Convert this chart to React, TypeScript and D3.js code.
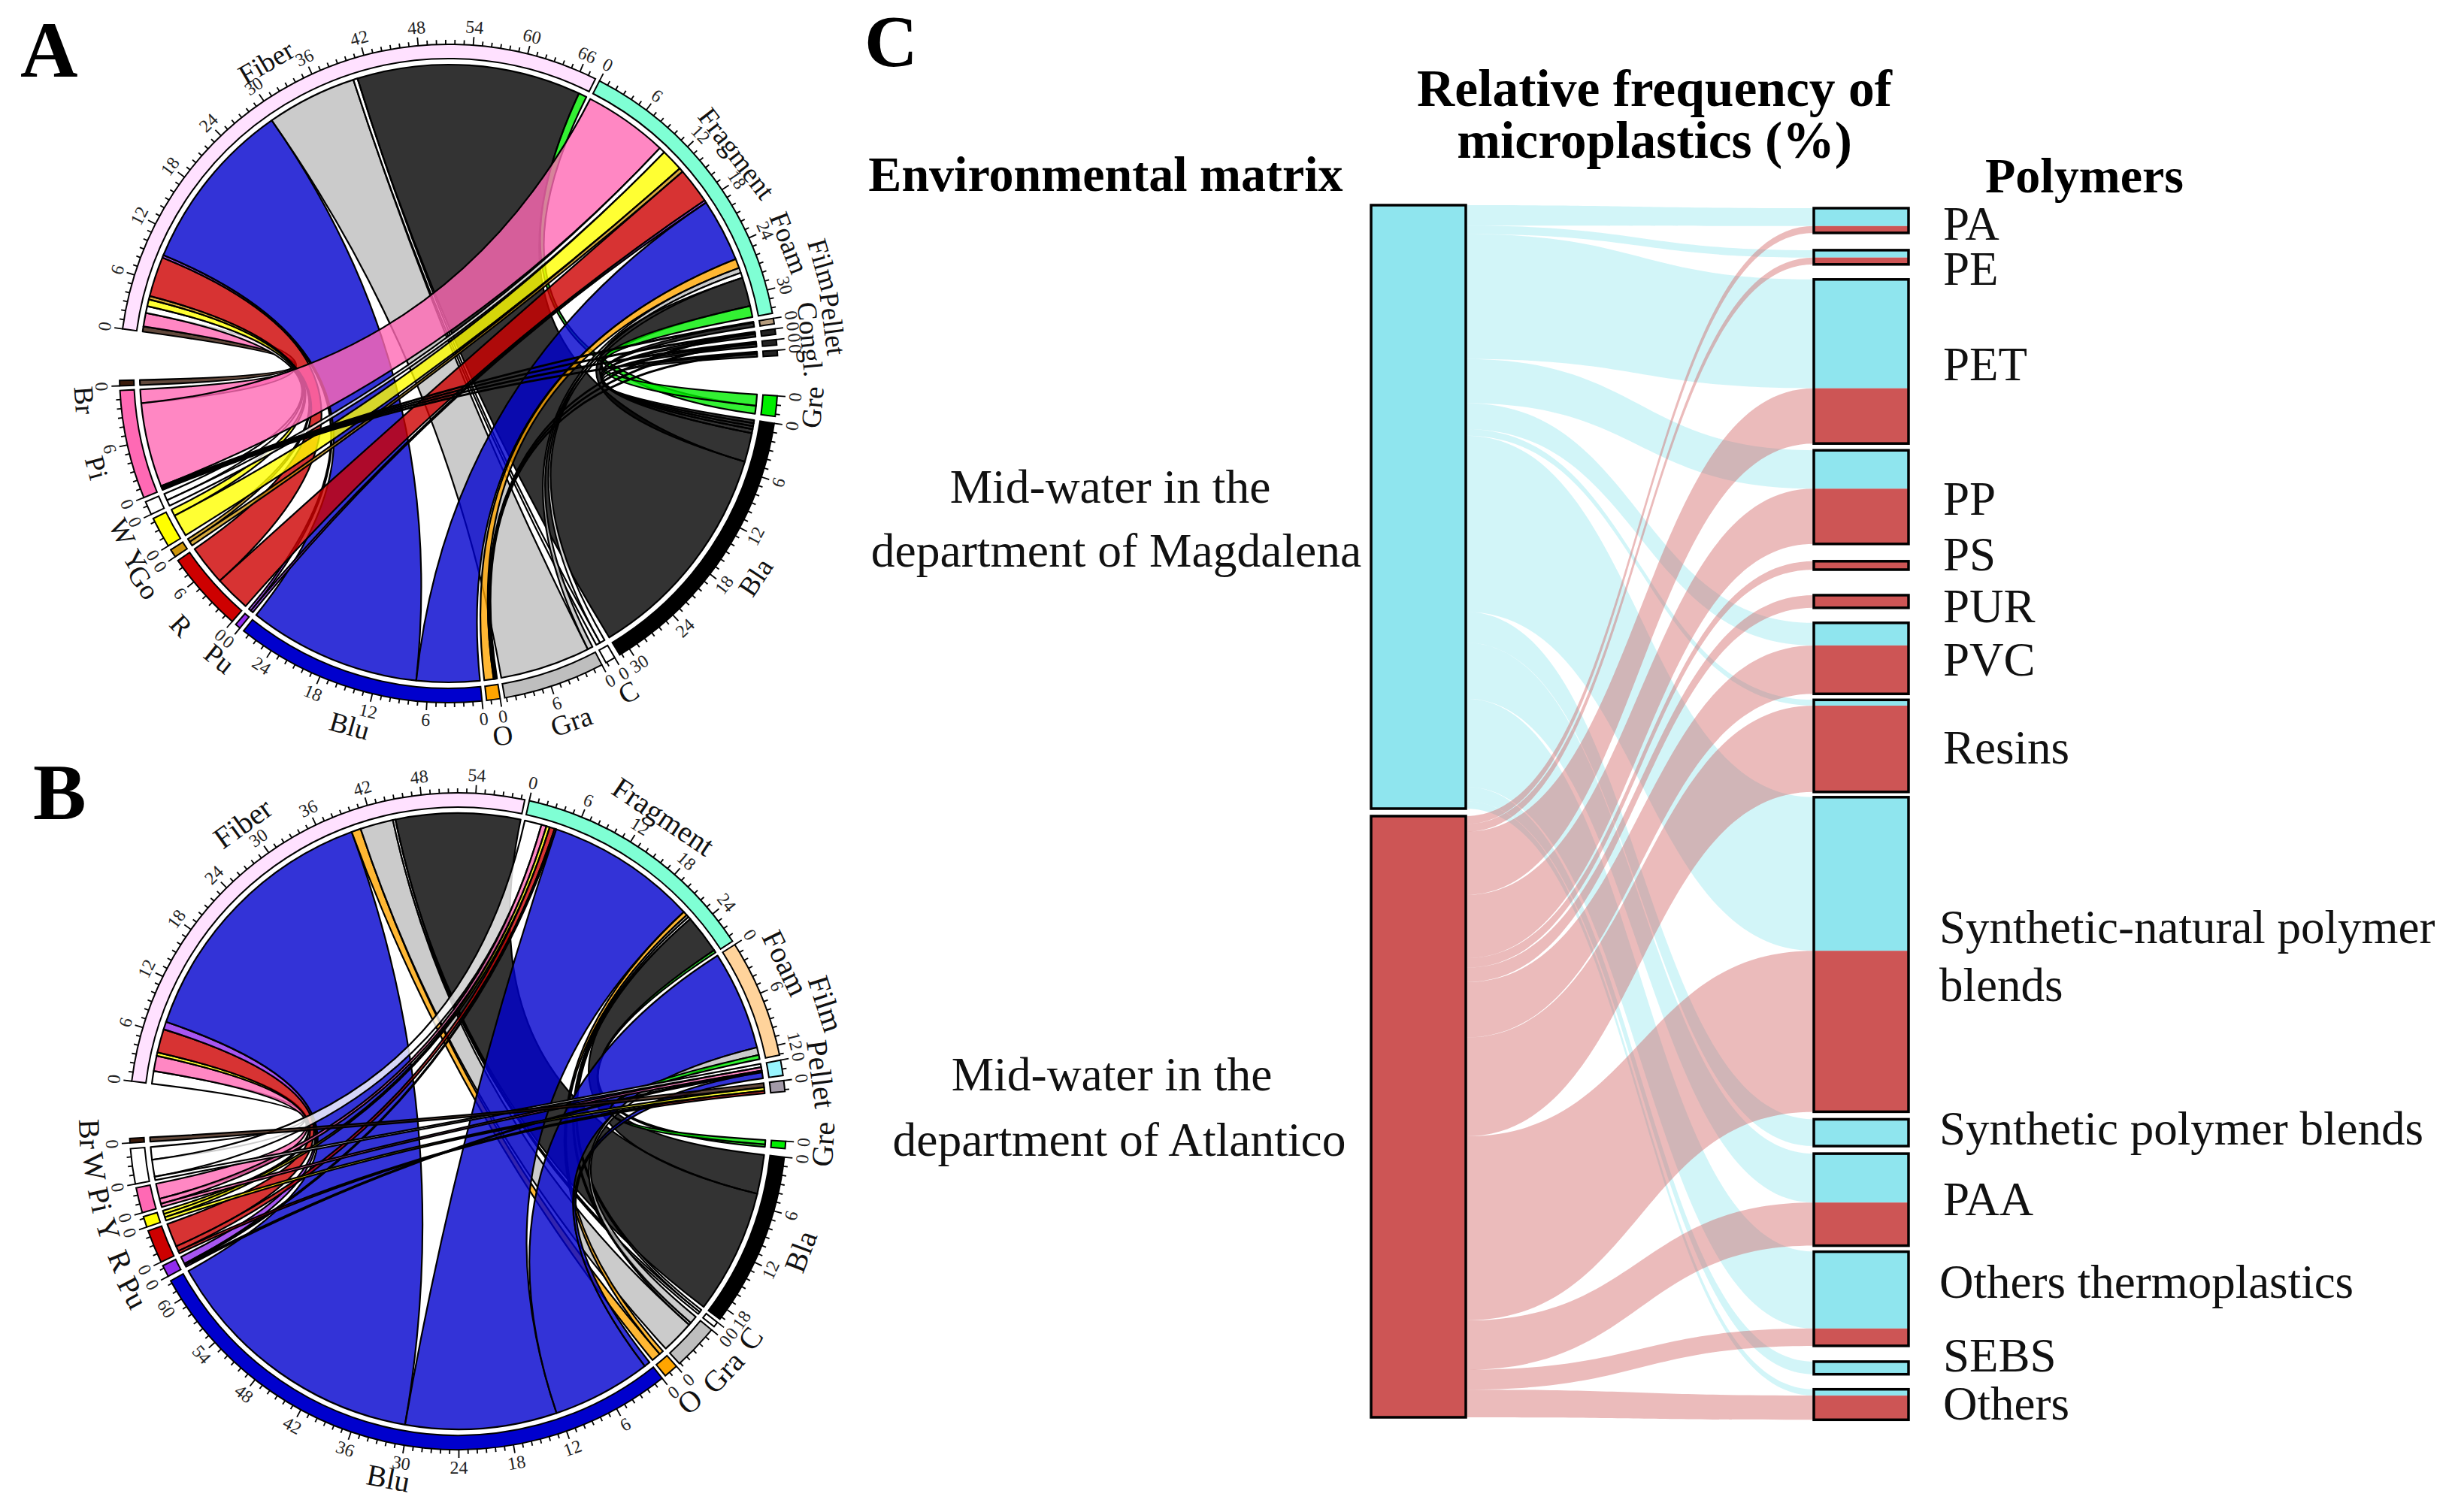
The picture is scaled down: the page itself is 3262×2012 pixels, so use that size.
import React from "react";
import * as d3 from "d3";

// ---------- Sankey data (relative frequency, %) ----------
const polymers = ["PA", "PE", "PET", "PP", "PS", "PUR", "PVC", "Resins", "Synthetic-natural", "Synthetic blends", "PAA", "Others thermoplastics", "SEBS", "Others"];
const magdalena = [3.4, 1.4, 20.7, 7.3, 0, 0, 4.3, 1.1, 29.2, 5.1, 9.3, 14.6, 2.4, 1.2];
const atlantico = [1.3, 1.3, 10.5, 10.5, 1.6, 2.4, 9.2, 16.4, 30.6, 0, 8.2, 3.3, 0, 4.6];
const polymerGaps = [23, 20, 9, 23, 34, 20, 8, 7, 10, 10, 8, 21, 20];
const polymerLabels: [string, number, number][] = [
  ["PA", 2585, 298], ["PE", 2585, 358], ["PET", 2585, 485], ["PP", 2585, 664], ["PS", 2585, 738], ["PUR", 2585, 807], ["PVC", 2585, 878], ["Resins", 2585, 995],
  ["Synthetic-natural polymer", 2580, 1234], ["blends", 2580, 1311], ["Synthetic polymer blends", 2580, 1502], ["PAA", 2585, 1596], ["Others thermoplastics", 2580, 1706], ["SEBS", 2585, 1804], ["Others", 2585, 1868],
];

// ---------- Chord data ----------
type Link = [string, string, number];
const typesA = ["Fiber", "Fragment", "Foam", "Film", "Pellet", "Congl."];
const colorsA = ["Gre", "Bla", "C", "Gra", "O", "Blu", "Pu", "R", "Go", "Y", "W", "Pi", "Br"];
const linksA: Link[] = [
  ["Fiber", "Br", 0.6], ["Fiber", "Pi", 1.6], ["Fiber", "W", 0.8], ["Fiber", "Y", 0.8], ["Fiber", "Go", 0.4], ["Fiber", "R", 4.7], ["Fiber", "Pu", 0.3], ["Fiber", "Blu", 20.3], ["Fiber", "Gra", 10.6], ["Fiber", "C", 0.5], ["Fiber", "Bla", 26.3], ["Fiber", "Gre", 0.95],
  ["Fragment", "Pi", 9.9], ["Fragment", "W", 0.7], ["Fragment", "Y", 2.6], ["Fragment", "Go", 0.5], ["Fragment", "R", 4.2], ["Fragment", "Pu", 0.3], ["Fragment", "Blu", 7.4], ["Fragment", "O", 1.1], ["Fragment", "Gra", 0.6], ["Fragment", "C", 0.6], ["Fragment", "Bla", 3.4], ["Fragment", "Gre", 1.3],
  ["Foam", "Pi", 0.12], ["Foam", "Bla", 0.48],
  ["Film", "Pi", 0.12], ["Film", "O", 0.13], ["Film", "Bla", 0.35],
  ["Pellet", "Pi", 0.12], ["Pellet", "O", 0.13], ["Pellet", "Bla", 0.35],
  ["Congl.", "Pi", 0.12], ["Congl.", "O", 0.13], ["Congl.", "Bla", 0.35],
];
const typesB = ["Fiber", "Fragment", "Foam", "Film", "Pellet"];
const colorsB = ["Gre", "Bla", "C", "Gra", "O", "Blu", "Pu", "R", "Y", "Pi", "W", "Br"];
const linksB: Link[] = [
  ["Fiber", "W", 1.5], ["Fiber", "Pi", 1.8], ["Fiber", "Y", 0.4], ["Fiber", "R", 2.8], ["Fiber", "Pu", 0.9], ["Fiber", "Blu", 32], ["Fiber", "O", 1.1], ["Fiber", "Gra", 3.9], ["Fiber", "C", 0.3], ["Fiber", "Bla", 14.7],
  ["Fragment", "W", 2], ["Fragment", "Pi", 0.6], ["Fragment", "Y", 0.4], ["Fragment", "R", 0.6], ["Fragment", "Pu", 0.2], ["Fragment", "Blu", 17.9], ["Fragment", "O", 0.5], ["Fragment", "Gra", 0.3], ["Fragment", "C", 0.3], ["Fragment", "Bla", 4.6], ["Fragment", "Gre", 0.3],
  ["Foam", "Blu", 11.7], ["Foam", "Gra", 0.9], ["Foam", "Gre", 0.5],
  ["Film", "W", 0.4], ["Film", "Pi", 0.4], ["Film", "Pu", 0.2], ["Film", "Blu", 0.7],
  ["Pellet", "Br", 0.5], ["Pellet", "Y", 0.4], ["Pellet", "R", 0.3],
];
const sectorColors: Record<string, string> = {
  Fiber: "#ffe1ff", Fragment: "#7fffd4", Gre: "#00ee00", Bla: "#000000", C: "#ffffff", Gra: "#bebebe", O: "#ffa500", Blu: "#0000cd", Pu: "#912cee", R: "#cd0000", Go: "#cd950c", Y: "#ffff00", W: "#ffffff", Pi: "#ff69b4", Br: "#3a1a0a", "Congl.": "#222222",
};
const colorsAExtra: Record<string, string> = { Foam: "#b59b7c", Film: "#222222", Pellet: "#222222" };
const colorsBExtra: Record<string, string> = { Foam: "#ffd39b", Film: "#98f5ff", Pellet: "#a39aa8" };
// label placement: name, angle (deg clockwise from top), radius
const labelsA: [string, number, number][] = [
  ["Fiber", 329.6, 480], ["Fragment", 52.6, 482], ["Foam", 69, 485], ["Film", 73.8, 519], ["Pellet", 82.6, 515], ["Congl.", 84.6, 483], ["Gre", 95.3, 486], ["Bla", 123.6, 490], ["C", 150.6, 487], ["Gra", 160.6, 491], ["O", 171.5, 487], ["Blu", 195.7, 487], ["Pu", 218.8, 487], ["R", 226.7, 489], ["Go", 235.6, 492], ["Y", 239.2, 486], ["W", 244.1, 483], ["Pi", 255, 485], ["Br", 265.8, 486],
];
const labelsB: [string, number, number][] = [
  ["Fiber", 324.2, 489], ["Fragment", 34, 489], ["Foam", 64.2, 484], ["Film", 72.3, 514], ["Pellet", 82.6, 487], ["Gre", 93.6, 487], ["Bla", 110.8, 488], ["C", 126.6, 485], ["Gra", 133.4, 486], ["O", 140.4, 484], ["Blu", 191, 484], ["Pu", 242.2, 489], ["R", 247.5, 486], ["Y", 252.8, 487], ["Pi", 257.6, 487], ["W", 262.9, 487], ["Br", 268, 490],
];

const rad = (d: number) => (d * Math.PI) / 180;

function Chord({ cx, cy, types, colors, links, start, gaps, extra, labels, labelSize, rChord, rIn, rOut }: any) {
  const names: string[] = [...types, ...colors];
  const idx = new Map(names.map((n, i) => [n, i]));
  const size = new Map<string, number>(names.map((n) => [n, d3.sum(links, (l: Link) => (l[0] === n || l[1] === n ? l[2] : 0))]));
  const total = d3.sum(names, (n) => size.get(n)!);
  const k = (360 - d3.sum(gaps as number[])) / total;
  const scales = new Map<string, d3.ScaleLinear<number, number>>();
  let a = start;
  names.forEach((n, i) => {
    const s = size.get(n)!;
    scales.set(n, d3.scaleLinear().domain([0, s]).range([a, a + s * k]));
    a += s * k + gaps[i];
  });
  const alloc = new Map<Link, Record<string, [number, number]>>();
  names.forEach((n) => {
    let pos = 0;
    const mine = (links as Link[]).filter((l) => l[0] === n || l[1] === n);
    mine.sort((p, q) => idx.get(p[0] === n ? p[1] : p[0])! > idx.get(q[0] === n ? q[1] : q[0])! ? -1 : 1);
    mine.forEach((l) => {
      const rec = alloc.get(l) || {};
      const sc = scales.get(n)!;
      rec[n] = [sc(pos), sc(pos + l[2])];
      pos += l[2];
      alloc.set(l, rec);
    });
  });
  const pt = (deg: number, r: number): [number, number] => [r * Math.sin(rad(deg)), -r * Math.cos(rad(deg))];
  const quad = (ctx: d3.Path, p: number, q: number) => {
    let d = ((q - p) % 360 + 360) % 360;
    let mid: number;
    if (d > 180) { d = 360 - d; mid = q + d / 2; } else mid = p + d / 2;
    const apex = pt(mid, rChord * 0.5 * Math.cos(rad(d / 2)));
    const P = pt(p, rChord), Q = pt(q, rChord);
    ctx.quadraticCurveTo(2 * apex[0] - 0.5 * (P[0] + Q[0]), 2 * apex[1] - 0.5 * (P[1] + Q[1]), Q[0], Q[1]);
  };
  const chordPath = (l: Link) => {
    const rec = alloc.get(l)!;
    const [a0, a1] = rec[l[0]], [b0, b1] = rec[l[1]];
    const ctx = d3.path();
    const P = pt(a0, rChord);
    ctx.moveTo(P[0], P[1]);
    ctx.arc(0, 0, rChord, rad(a0 - 90), rad(a1 - 90));
    quad(ctx, a1, b0);
    ctx.arc(0, 0, rChord, rad(b0 - 90), rad(b1 - 90));
    quad(ctx, b1, a0);
    ctx.closePath();
    return ctx.toString();
  };
  const col = (n: string) => extra[n] || sectorColors[n];
  const arc = d3.arc();
  return (
    <g transform={`translate(${cx},${cy})`} fontFamily="Liberation Serif">
      {(links as Link[]).map((l, i) => (
        <path key={i} d={chordPath(l)} fill={col(l[1])} fillOpacity={0.8} stroke="#000" strokeWidth={2.2} strokeLinejoin="round" />
      ))}
      {names.map((n) => {
        const sc = scales.get(n)!;
        const [a0, a1] = sc.range();
        const vals = d3.range(0, size.get(n)! + 1e-6, 1);
        return (
          <g key={n}>
            <path d={arc({ innerRadius: rIn, outerRadius: rOut, startAngle: rad(a0), endAngle: rad(a1) } as any)!} fill={col(n)} stroke="#000" strokeWidth={2} />
            {vals.map((v) => {
              const ang = sc(v);
              const major = v % 6 === 0;
              const p0 = pt(ang, rOut), p1 = pt(ang, rOut + (major ? 11 : 6));
              const lp = pt(ang, rOut + 24);
              const rot = ang % 360 > 90 && ang % 360 < 270 ? ang - 180 : ang;
              return (
                <g key={v}>
                  <line x1={p0[0]} y1={p0[1]} x2={p1[0]} y2={p1[1]} stroke="#000" strokeWidth={1.8} />
                  {major && (
                    <text transform={`translate(${lp[0]},${lp[1]}) rotate(${rot})`} textAnchor="middle" dominantBaseline="central" fontSize={24} fill="#222">
                      {v}
                    </text>
                  )}
                </g>
              );
            })}
          </g>
        );
      })}
      {(labels as [string, number, number][]).map(([n, ang, r]) => {
        const p = pt(ang, r);
        const rot = ang > 90 && ang < 270 ? ang - 180 : ang;
        return (
          <text key={n} transform={`translate(${p[0]},${p[1]}) rotate(${rot})`} textAnchor="middle" dominantBaseline="central" fontSize={labelSize} fill="#111">
            {n}
          </text>
        );
      })}
    </g>
  );
}

function Sankey() {
  const leftX0 = 1824, leftX1 = 1950, rightX0 = 2413, rightX1 = 2539;
  const yBlue = d3.scaleLinear().domain([0, d3.sum(magdalena)]).range([273, 1076]);
  const yRed = d3.scaleLinear().domain([0, d3.sum(atlantico)]).range([1086, 1886]);
  const pxPerUnit = 7.0;
  let top = 277;
  let cb = 0, cr = 0;
  const blue = "#8fe5ee", red = "#cd5555";
  const rows = polymers.map((p, i) => {
    const hb = magdalena[i] * pxPerUnit, hr = atlantico[i] * pxPerUnit;
    const r = { p, y0: top, ym: top + hb, y1: top + hb + hr, lb: [yBlue(cb), yBlue(cb + magdalena[i])], lr: [yRed(cr), yRed(cr + atlantico[i])] };
    top += hb + hr + (polymerGaps[i] ?? 0);
    cb += magdalena[i];
    cr += atlantico[i];
    return r;
  });
  const band = (l0: number, l1: number, r0: number, r1: number) => {
    const mx = (leftX1 + rightX0) / 2;
    const c = d3.path();
    c.moveTo(leftX1, l0);
    c.bezierCurveTo(mx, l0, mx, r0, rightX0, r0);
    c.lineTo(rightX0, r1);
    c.bezierCurveTo(mx, r1, mx, l1, leftX1, l1);
    c.closePath();
    return c.toString();
  };
  return (
    <g>
      {rows.map((r, i) => magdalena[i] > 0 && <path key={"b" + i} d={band(r.lb[0], r.lb[1], r.y0, r.ym)} fill={blue} fillOpacity={0.4} />)}
      {rows.map((r, i) => atlantico[i] > 0 && <path key={"r" + i} d={band(r.lr[0], r.lr[1], r.ym, r.y1)} fill={red} fillOpacity={0.4} />)}
      <rect x={leftX0} y={273} width={leftX1 - leftX0} height={803} fill={blue} stroke="#000" strokeWidth={3.5} />
      <rect x={leftX0} y={1086} width={leftX1 - leftX0} height={800} fill={red} stroke="#000" strokeWidth={3.5} />
      {rows.map((r) => (
        <g key={r.p}>
          <rect x={rightX0} y={r.y0} width={rightX1 - rightX0} height={r.ym - r.y0} fill={blue} />
          <rect x={rightX0} y={r.ym} width={rightX1 - rightX0} height={r.y1 - r.ym} fill={red} />
          <rect x={rightX0} y={r.y0} width={rightX1 - rightX0} height={r.y1 - r.y0} fill="none" stroke="#000" strokeWidth={3.5} />
        </g>
      ))}
    </g>
  );
}

const F = "Liberation Serif";
export default function App() {
  return (
    <svg width={3262} height={2012} viewBox="0 0 3262 2012" style={{ position: "absolute", left: 0, top: 0, background: "#fff" }}>
      <Chord cx={597} cy={497} types={typesA} colors={colorsA} links={linksA} start={277.8} extra={colorsAExtra} labels={labelsA} labelSize={37} rChord={411} rIn={419} rOut={438}
        gaps={[0.8, 0.9, 0.9, 0.9, 0.9, 7, 1.2, 1, 0.8, 0.8, 0.8, 0.8, 0.8, 0.8, 0.8, 0.8, 0.8, 0.8, 9]} />
      <Chord cx={609} cy={1492} types={typesB} colors={colorsB} links={linksB} start={277} extra={colorsBExtra} labels={labelsB} labelSize={40} rChord={410} rIn={418} rOut={437}
        gaps={[0.8, 0.7, 0.9, 0.9, 8.7, 1.5, 0.7, 0.7, 0.7, 0.7, 0.9, 0.7, 0.7, 0.7, 0.7, 1, 10]} />
      <Sankey />
      <g fontFamily={F} fill="#000">
        <text x={27} y={102} fontSize={106} fontWeight="bold">A</text>
        <text x={44} y={1090} fontSize={106} fontWeight="bold">B</text>
        <text x={1150} y={88} fontSize={98} fontWeight="bold">C</text>
        <g fontWeight="bold" textAnchor="middle" dominantBaseline="central">
          <text x={2201} y={117} fontSize={69.5}>Relative frequency of</text>
          <text x={2201} y={186} fontSize={69.5}>microplastics (%)</text>
          <text x={1471} y={231} fontSize={66}>Environmental matrix</text>
          <text x={2773} y={233} fontSize={66}>Polymers</text>
        </g>
        <g fontSize={63.5} textAnchor="middle" dominantBaseline="central" fill="#111">
          <text x={1477} y={647}>Mid-water in the</text>
          <text x={1485} y={732}>department of Magdalena</text>
          <text x={1479} y={1429}>Mid-water in the</text>
          <text x={1489} y={1516}>department of Atlantico</text>
        </g>
        <g fontSize={63} dominantBaseline="central" fill="#111">
          {polymerLabels.map(([t, x, y]) => (
            <text key={t} x={x} y={y}>{t}</text>
          ))}
        </g>
      </g>
    </svg>
  );
}
